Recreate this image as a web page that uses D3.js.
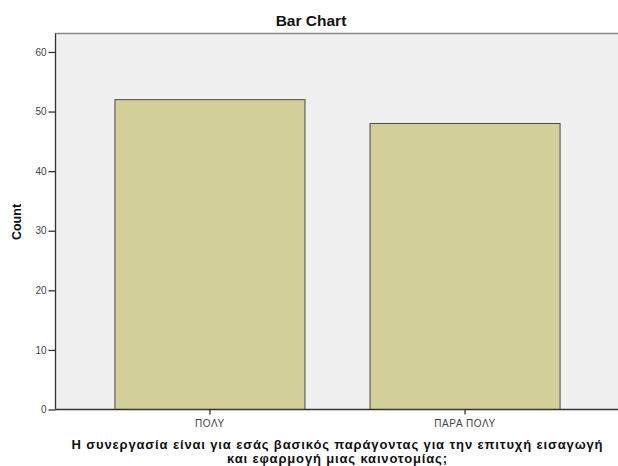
<!DOCTYPE html>
<html>
<head>
<meta charset="utf-8">
<script src="https://cdn.jsdelivr.net/npm/d3@7"></script>
<style>
  body { margin: 0; background: #fff; }
  svg { display: block; font-family: Arial, "Liberation Sans", sans-serif; }
</style>
</head>
<body>
<div id="chart"></div>
<script>
var categories = ["ΠΟΛΥ", "ΠΑΡΑ ΠΟΛΥ"];
var counts = [52, 48];
var yTicks = [0, 10, 20, 30, 40, 50, 60];
var titleText = "Bar Chart";
var yTitle = "Count";
var xTitleLines = [
  "Η συνεργασία είναι για εσάς βασικός παράγοντας για την επιτυχή εισαγωγή",
  "και εφαρμογή μιας καινοτομίας;"
];

var data = categories.map(function (c, i) { return { cat: c, value: counts[i] }; });

var W = 618, H = 466;
var svg = d3.select("#chart")
            .append("svg")
            .attr("width", W)
            .attr("height", H);

var plot = { top: 33, left: 55, bottom: 409, right: 619 };

var xScale = d3.scaleBand()
               .domain(categories)
               .range([plot.left, plot.right])
               .paddingInner(0.255)
               .paddingOuter(0.233);

var yScale = d3.scaleLinear()
               .domain([0, 63.1])
               .range([plot.bottom, plot.top]);

// plot background
svg.append("rect")
   .attr("x", plot.left)
   .attr("y", plot.top)
   .attr("width", plot.right - plot.left)
   .attr("height", plot.bottom - plot.top)
   .attr("fill", "#f0f0f0");

svg.append("line")
   .attr("x1", plot.left).attr("x2", W)
   .attr("y1", plot.top + 0.5).attr("y2", plot.top + 0.5)
   .attr("stroke", "#888").attr("stroke-width", 1.5);

// bars
svg.selectAll("rect.bar")
   .data(data)
   .enter()
   .append("rect")
   .attr("class", "bar")
   .attr("x", d => xScale(d.cat) + 0.5)
   .attr("y", d => yScale(d.value) + 0.5)
   .attr("width", xScale.bandwidth())
   .attr("height", d => yScale(0) - yScale(d.value))
   .attr("fill", "#d3cf98")
   .attr("stroke", "#4a4a4a")
   .attr("stroke-width", 1);

// y axis
var yAxis = svg.append("g")
   .attr("transform", `translate(${plot.left + 0.5}, 0.5)`)
   .call(d3.axisLeft(yScale).tickValues(yTicks).tickSize(7).tickSizeOuter(0));
yAxis.select(".domain").attr("stroke", "#333").attr("stroke-width", 1.3)
     .attr("d", `M0,${plot.top}V${plot.bottom}`);
yAxis.selectAll(".tick line").attr("stroke", "#333").attr("stroke-width", 1.3);
yAxis.selectAll(".tick text")
     .attr("x", -9)
     .style("font-size", "10px")
     .style("font-family", "Arial, 'Liberation Sans', sans-serif")
     .attr("fill", "#444");

// x axis
var xAxis = svg.append("g")
   .attr("transform", `translate(0.5, ${plot.bottom + 0.5})`)
   .call(d3.axisBottom(xScale).tickSize(5).tickSizeOuter(0));
xAxis.select(".domain").attr("stroke", "#333").attr("stroke-width", 1.3)
     .attr("d", `M${plot.left},0H${W}`);
xAxis.selectAll(".tick line").attr("stroke", "#333").attr("stroke-width", 1.3);
xAxis.selectAll(".tick text")
     .attr("y", 10)
     .style("font-size", "10px")
     .style("letter-spacing", "0.6px")
     .style("font-family", "Arial, 'Liberation Sans', sans-serif")
     .attr("fill", "#444");

// titles
svg.append("text")
   .attr("x", 311)
   .attr("y", 25.5)
   .attr("text-anchor", "middle")
   .style("font-size", "15.5px")
   .style("font-weight", "bold")
   .attr("fill", "#111")
   .text(titleText);

svg.append("text")
   .attr("transform", "translate(21, 222) rotate(-90)")
   .attr("text-anchor", "middle")
   .style("font-size", "12.5px")
   .style("font-weight", "bold")
   .attr("fill", "#111")
   .text(yTitle);

var xTitleWidths = [531, 220];
svg.selectAll("text.xtitle")
   .data(xTitleLines)
   .enter()
   .append("text")
   .attr("class", "xtitle")
   .attr("x", 337)
   .attr("y", (d, i) => 449 + i * 13.5)
   .attr("text-anchor", "middle")
   .attr("textLength", (d, i) => xTitleWidths[i])
   .attr("lengthAdjust", "spacing")
   .style("font-size", "13px")
   .style("font-weight", "bold")
   .attr("fill", "#111")
   .text(d => d);
</script>
</body>
</html>
